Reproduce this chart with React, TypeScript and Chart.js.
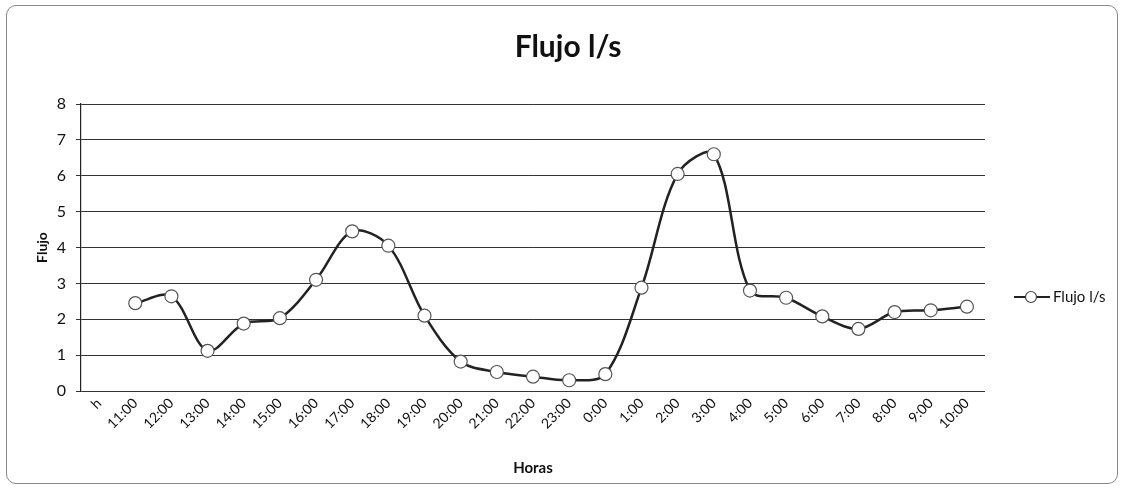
import React, { useEffect, useRef } from "react";
import { Chart, registerables } from "chart.js";

Chart.register(...registerables);

const categories = ["h", "11:00", "12:00", "13:00", "14:00", "15:00", "16:00", "17:00", "18:00", "19:00", "20:00", "21:00", "22:00", "23:00", "0:00", "1:00", "2:00", "3:00", "4:00", "5:00", "6:00", "7:00", "8:00", "9:00", "10:00"];
const flujo: (number | null)[] = [null, 2.45, 2.64, 1.12, 1.88, 2.03, 3.1, 4.45, 4.05, 2.1, 0.82, 0.53, 0.4, 0.3, 0.47, 2.88, 6.05, 6.6, 2.8, 2.6, 2.08, 1.73, 2.2, 2.25, 2.35];
const seriesName = "Flujo l/s";
const chartTitle = "Flujo l/s";
const yTitle = "Flujo";
const xTitle = "Horas";

const FONT = "Lato, 'Open Sans', sans-serif";

const decorPlugin = {
  id: "decor",
  afterDraw(chart: any) {
    const ctx = chart.ctx;
    ctx.save();
    // title
    ctx.fillStyle = "#111";
    ctx.font = `bold 30px ${FONT}`;
    ctx.textAlign = "center";
    ctx.textBaseline = "middle";
    ctx.fillText(chartTitle, 568, 47);
    // legend
    const ly = 297;
    ctx.strokeStyle = "#222";
    ctx.lineWidth = 2;
    ctx.beginPath();
    ctx.moveTo(1014, ly);
    ctx.lineTo(1050, ly);
    ctx.stroke();
    ctx.beginPath();
    ctx.arc(1031, ly, 5.5, 0, Math.PI * 2);
    ctx.fillStyle = "#fff";
    ctx.fill();
    ctx.strokeStyle = "#444";
    ctx.lineWidth = 1.2;
    ctx.stroke();
    ctx.fillStyle = "#111";
    ctx.font = `15px ${FONT}`;
    ctx.textAlign = "left";
    ctx.fillText(seriesName, 1053, ly);
    ctx.restore();
  },
};

export default function App() {
  const ref = useRef<HTMLCanvasElement | null>(null);
  useEffect(() => {
    if (!ref.current) return;
    const chart = new Chart(ref.current, {
      type: "line",
      data: {
        labels: categories,
        datasets: [
          {
            label: seriesName,
            data: flujo,
            borderColor: "#222",
            borderWidth: 2.5,
            tension: 0.33,
            pointRadius: 6.5,
            pointBackgroundColor: "#fff",
            pointBorderColor: "#555",
            pointBorderWidth: 1.2,
          },
        ],
      },
      options: {
        animation: false,
        responsive: false,
        layout: { padding: { top: 104, right: 140, bottom: 14, left: 34 } },
        plugins: { legend: { display: false }, title: { display: false }, tooltip: { enabled: false } },
        scales: {
          x: {
            offset: true,
            grid: { display: false, drawTicks: false },
            border: { display: false },
            ticks: {
              color: "#111",
              font: { family: FONT, size: 14 },
              maxRotation: 45,
              minRotation: 45,
              autoSkip: false,
              padding: 4,
            },
            title: { display: true, text: xTitle, color: "#111", font: { family: FONT, size: 15, weight: "bold" }, padding: { top: 0, bottom: 0 } },
            afterFit(scale: any) {
              scale.height = 491 - 14 - 391;
            },
          },
          y: {
            min: 0,
            max: 8,
            grid: { color: "#333", lineWidth: 1, tickLength: 5 },
            border: { display: true, color: "#222", width: 1.2 },
            ticks: { stepSize: 1, color: "#111", font: { family: FONT, size: 16 }, padding: 10 },
            title: { display: true, text: yTitle, color: "#111", font: { family: FONT, size: 14, weight: "bold" }, padding: { top: 0, bottom: 0 } },
            afterFit(scale: any) {
              scale.width = 81 - 34;
            },
          },
        },
      },
      plugins: [decorPlugin],
    });
    return () => chart.destroy();
  }, []);

  return (
    <div style={{ position: "absolute", left: 0, top: 0, width: 1125, height: 491, background: "#fff" }}>
      <div
        style={{
          position: "absolute",
          left: 6,
          top: 5,
          width: 1112,
          height: 479,
          border: "1px solid #888",
          borderRadius: 10,
          boxSizing: "border-box",
        }}
      />
      <canvas ref={ref} width={1125} height={491} style={{ position: "absolute", left: 0, top: 0 }} />
    </div>
  );
}
